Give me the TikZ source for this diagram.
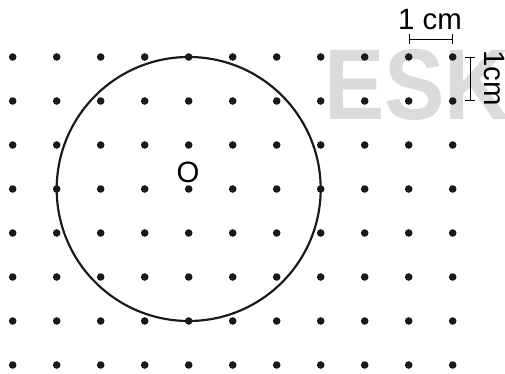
\documentclass[tikz,border=0pt]{standalone}
\usepackage{fontspec}
\setmainfont{Liberation Sans}
\begin{document}
\begin{tikzpicture}[x=1cm/44,y=-1cm/44,
  griddot/.style={fill=black!90},
  wmark/.style={text=black!14,font=\fontsize{65}{65}\selectfont\bfseries,inner sep=0pt,xscale=0.9},
  lbl/.style={font=\fontsize{19}{19}\selectfont,inner sep=0pt},
  scalebar/.style={line width=0.6pt,|-|}]
\useasboundingbox (0,0) rectangle (505,374);
\begin{scope}
\clip (0,0) rectangle (505,374);
\node[wmark,anchor=base west] (wm) at (324,120) {ESK};
\end{scope}
\foreach \i in {0,...,10}{
  \foreach \j in {0,...,7}{
    \fill[griddot] (12.7+44*\i,57+44*\j) circle[radius=3.8];
  }
}
\coordinate (c) at (188.7,189);
\draw[line width=1.4pt,black!90] (c) circle[radius=132];
\node[lbl] (o) at (188,172) {O};
\coordinate (h1) at (409,39);
\coordinate (h2) at (453,39);
\draw[scalebar] (h1) -- (h2);
\node[lbl,anchor=base] (hl) at (430,30) {1 cm};
\coordinate (v1) at (470,57);
\coordinate (v2) at (470,101);
\draw[scalebar] (v1) -- (v2);
\node[lbl,rotate=-90,anchor=base] (vl) at (484,78) {1cm};
\end{tikzpicture}
\end{document}
